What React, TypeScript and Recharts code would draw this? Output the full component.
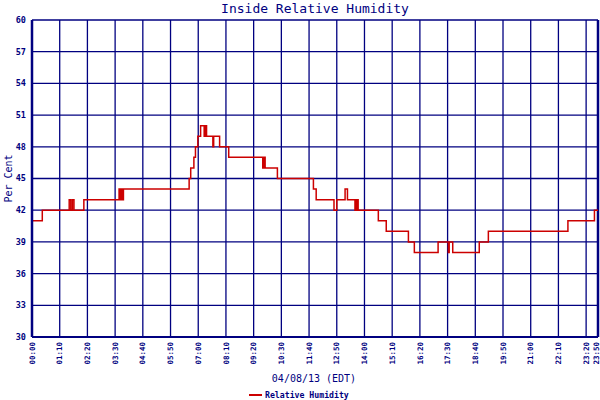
import React from 'react';
import {
  LineChart,
  Line,
  XAxis,
  YAxis,
  CartesianGrid,
  ReferenceLine,
  Legend,
  Customized,
} from 'recharts';

// minutes after midnight where the reading changes
const times = [
  0, 26, 94, 98, 102, 106, 131, 220, 223, 226, 229, 231, 397, 401,
  409, 413, 419, 426, 435, 438, 441, 457, 459, 474, 497, 583, 586, 589,
  620, 711, 718, 763, 770, 791, 797, 816, 819, 821, 823, 824, 875, 895,
  951, 966, 1026, 1052, 1054, 1063, 1130, 1153, 1354, 1421, 1430,
];
const humidity = [
  41, 42, 43, 42, 43, 42, 43, 44, 43, 44, 43, 44, 45, 46,
  47, 48, 49, 50, 49, 50, 49, 48, 49, 48, 47, 46, 47, 46,
  45, 44, 43, 42, 43, 44, 43, 42, 43, 42, 43, 42, 41, 40,
  39, 38, 39, 38, 39, 38, 39, 40, 41, 42, 42,
];
const xTicks = [
  0, 70, 140, 210, 280, 350, 420, 490, 560, 630, 700, 770, 840, 910, 980,
  1050, 1120, 1190, 1260, 1330, 1400, 1430,
];
const yTicks = [30, 33, 36, 39, 42, 45, 48, 51, 54, 57, 60];
const title = 'Inside Relative Humidity';
const yLabel = 'Per Cent';
const xLabel = '04/08/13 (EDT)';
const seriesName = 'Relative Humidity';

const data = times.map((t, i) => ({ t, rh: humidity[i] }));

const NAVY = '#000080';
const RED = '#cc0000';
const MONO = '"DejaVu Sans Mono", monospace';

const fmt = (m: number) =>
  `${String(Math.floor(m / 60)).padStart(2, '0')}:${String(m % 60).padStart(2, '0')}`;

const XTick = (props: any) => {
  const { x, y, payload } = props;
  const last = payload.value === xTicks[xTicks.length - 1];
  return (
    <g transform={`translate(${last ? x - 1.2 : x},${y}) rotate(-90)`}>
      <text
        x={0}
        y={0}
        dy="0.35em"
        textAnchor="end"
        fontSize={7.5}
        fontWeight="bold"
        fontFamily={MONO}
        fill={NAVY}
      >
        {fmt(payload.value)}
      </text>
    </g>
  );
};

const YTick = (props: any) => {
  const { x, y, payload } = props;
  return (
    <text
      x={x}
      y={y}
      dy="0.35em"
      textAnchor="end"
      fontSize={8.5}
      fontWeight="bold"
      fontFamily={MONO}
      fill={NAVY}
    >
      {payload.value}
    </text>
  );
};

const Texts = () => (
  <g>
    <text x={315} y={12.7} textAnchor="middle" fontSize={13} fontFamily={MONO} fill={NAVY}>
      {title}
    </text>
    <text
      x={11.5}
      y={178.5}
      transform="rotate(-90, 11.5, 178.5)"
      textAnchor="middle"
      fontSize={10}
      fontFamily={MONO}
      fill={NAVY}
    >
      {yLabel}
    </text>
    <text x={314} y={381.7} textAnchor="middle" fontSize={10} fontFamily={MONO} fill={NAVY}>
      {xLabel}
    </text>
  </g>
);

const LegendContent = () => (
  <svg width={600} height={12} style={{ display: 'block' }}>
    <line x1={249} x2={262} y1={7} y2={7} stroke={RED} strokeWidth={2} />
    <text x={265} y={9.5} fontSize={8.2} fontWeight="bold" fontFamily={MONO} fill={NAVY}>
      {seriesName}
    </text>
  </svg>
);

export default function App() {
  return (
    <div
      style={{
        position: 'absolute',
        left: 0,
        top: 0,
        width: 600,
        height: 400,
        background: '#ffffff',
      }}
    >
      <LineChart
        width={600}
        height={400}
        data={data}
        margin={{ top: 20, right: 2, left: 0, bottom: 0 }}
      >
        <CartesianGrid stroke={NAVY} strokeWidth={1.3} />
        <XAxis
          dataKey="t"
          type="number"
          domain={[0, 1430]}
          ticks={xTicks}
          interval={0}
          allowDataOverflow
          tickLine={false}
          tickSize={0}
          tickMargin={5}
          height={63}
          axisLine={{ stroke: NAVY, strokeWidth: 2 }}
          tick={<XTick />}
        />
        <YAxis
          type="number"
          domain={[30, 60]}
          ticks={yTicks}
          interval={0}
          allowDataOverflow
          tickLine={false}
          tickSize={0}
          tickMargin={6}
          width={32}
          axisLine={{ stroke: NAVY, strokeWidth: 2.5 }}
          tick={<YTick />}
        />
        <ReferenceLine x={1430} stroke={NAVY} strokeWidth={2.5} />
        <Line
          type="stepAfter"
          dataKey="rh"
          name={seriesName}
          stroke={RED}
          strokeWidth={1.5}
          dot={false}
          isAnimationActive={false}
        />
        <Legend
          layout="horizontal"
          verticalAlign="middle"
          align="center"
          wrapperStyle={{ top: 388, left: 0, width: 600, height: 12 }}
          content={<LegendContent />}
        />
        <Customized component={<Texts />} />
      </LineChart>
    </div>
  );
}
